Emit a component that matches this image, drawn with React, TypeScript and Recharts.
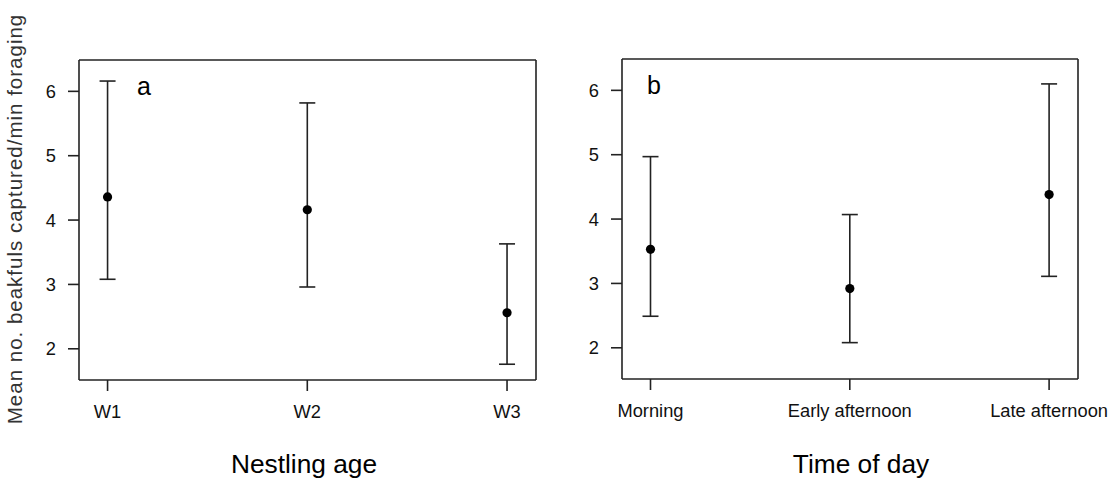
import React from "react"
import {
  ComposedChart,
  Scatter,
  ErrorBar,
  XAxis,
  YAxis,
} from "recharts"

// Panel a: nestling age
const ageCats = ["W1", "W2", "W3"]
const ageMean = [4.36, 4.16, 2.56]
const ageLower = [3.08, 2.96, 1.76]
const ageUpper = [6.16, 5.82, 3.63]

// Panel b: time of day
const timeCats = ["Morning", "Early afternoon", "Late afternoon"]
const timeMean = [3.53, 2.92, 4.38]
const timeLower = [2.49, 2.08, 3.11]
const timeUpper = [4.97, 4.07, 6.1]

const yTicks = [2, 3, 4, 5, 6]
const xTicks = [1, 2, 3]

const FONT = "'Liberation Sans', Arial, sans-serif"
const AXIS = "#222"
const TEXT = "#111"

function buildRows(mean: number[], lower: number[], upper: number[]) {
  return mean.map((m, i) => ({
    x: i + 1,
    mean: m,
    err: [m - lower[i], upper[i] - m],
  }))
}

interface PanelProps {
  cats: string[]
  mean: number[]
  lower: number[]
  upper: number[]
  left: number
  width: number
  leftW: number
  rightW: number
  topH: number
  bottomH: number
}

function Dot(props: any) {
  const { cx, cy } = props
  if (cx == null || cy == null) return null
  return <circle cx={cx} cy={cy} r={4.6} fill="#000" />
}

function Panel({ cats, mean, lower, upper, left, width, leftW, rightW, topH, bottomH }: PanelProps) {
  const data = buildRows(mean, lower, upper)
  const xDomain = [0.857, 3.145]
  const yDomain = [1.515, 6.487]
  const tickStyle = { fontSize: 18.3, fill: TEXT, fontFamily: FONT }
  return (
    <div style={{ position: "absolute", left, top: 0 }}>
      <ComposedChart
        width={width}
        height={479}
        data={data}
        margin={{ top: 0, right: 0, bottom: 0, left: 0 }}
      >
        <XAxis
          xAxisId="b"
          dataKey="x"
          type="number"
          domain={xDomain}
          ticks={xTicks}
          allowDataOverflow
          height={bottomH}
          tickSize={11}
          tickMargin={14}
          stroke={AXIS}
          strokeWidth={1.6}
          tick={tickStyle}
          tickFormatter={(v: number) => cats[v - 1] ?? ""}
        />
        <XAxis
          xAxisId="t"
          orientation="top"
          dataKey="x"
          type="number"
          domain={xDomain}
          ticks={xTicks}
          allowDataOverflow
          height={topH}
          tickSize={10}
          stroke={AXIS}
          strokeWidth={1.6}
          tick={false}
        />
        <YAxis
          yAxisId="l"
          type="number"
          domain={yDomain}
          ticks={yTicks}
          allowDataOverflow
          width={leftW}
          tickSize={11}
          tickMargin={12}
          stroke={AXIS}
          strokeWidth={1.6}
          tick={tickStyle}
        />
        <YAxis
          yAxisId="r"
          orientation="right"
          type="number"
          domain={yDomain}
          ticks={yTicks}
          allowDataOverflow
          width={rightW}
          tickSize={11}
          stroke={AXIS}
          strokeWidth={1.6}
          tick={false}
        />
        <Scatter
          xAxisId="b"
          yAxisId="l"
          dataKey="mean"
          shape={<Dot />}
          isAnimationActive={false}
        >
          <ErrorBar
            dataKey="err"
            direction="y"
            width={8}
            stroke={AXIS}
            strokeWidth={1.6}
            isAnimationActive={false}
          />
        </Scatter>
      </ComposedChart>
    </div>
  )
}

export default function App() {
  return (
    <div
      style={{
        position: "fixed",
        left: 0,
        top: 0,
        width: 1110,
        height: 479,
        background: "#fff",
        overflow: "hidden",
      }}
    >
      <Panel
        cats={ageCats}
        mean={ageMean}
        lower={ageLower}
        upper={ageUpper}
        left={0}
        width={560}
        leftW={79}
        rightW={24}
        topH={60}
        bottomH={99}
      />
      <Panel
        cats={timeCats}
        mean={timeMean}
        lower={timeLower}
        upper={timeUpper}
        left={560}
        width={550}
        leftW={62}
        rightW={32}
        topH={59}
        bottomH={100}
      />

      {/* panel letters and axis titles */}
      <svg
        width={1110}
        height={479}
        style={{ position: "absolute", left: 0, top: 0, pointerEvents: "none" }}
        fontFamily={FONT}
      >
        <text x={137} y={95} fontSize={25} fill="#000">a</text>
        <text x={647} y={94} fontSize={25} fill="#000">b</text>
        <text x={304} y={472.5} fontSize={26.3} fill="#000" textAnchor="middle">
          Nestling age
        </text>
        <text x={861} y={472.5} fontSize={26.3} fill="#000" textAnchor="middle">
          Time of day
        </text>
        <text
          x={0}
          y={0}
          fontSize={20.5}
          letterSpacing={1}
          fill="#333"
          textAnchor="middle"
          transform="translate(22 219) rotate(-90)"
        >
          Mean no. beakfuls captured/min foraging
        </text>
      </svg>
    </div>
  )
}
